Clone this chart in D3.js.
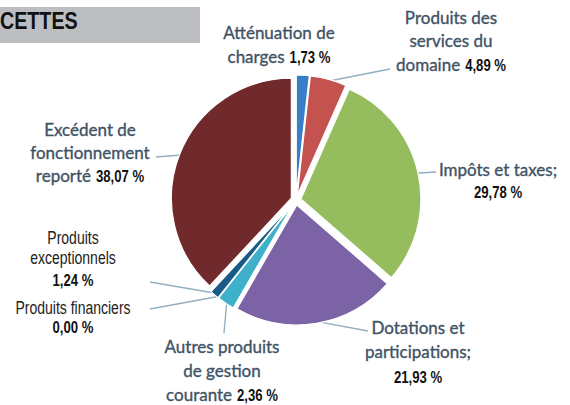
<!DOCTYPE html>
<html>
<head>
<meta charset="utf-8">
<script src="https://cdn.jsdelivr.net/npm/d3@7"></script>
<style>
body { margin: 0; background: #fff; }
svg { display: block; }
.cat { font-family: Lato, "Open Sans", sans-serif; font-size: 17px; fill: #415366; stroke: #415366; stroke-width: 0.35px; }
.plain { font-family: "Liberation Sans", Arial, sans-serif; font-size: 17.5px; fill: #222; }
.pct { font-family: "Liberation Sans", Arial, sans-serif; font-size: 16px; font-weight: bold; fill: #111; }
.title { font-family: "Liberation Sans", Arial, sans-serif; font-size: 24px; font-weight: bold; fill: #111; }
</style>
</head>
<body>
<div id="chart"></div>
<script>
var categories = [
    "Atténuation de charges",
    "Produits des services du domaine",
    "Impôts et taxes;",
    "Dotations et participations;",
    "Autres produits de gestion courante",
    "Produits financiers",
    "Produits exceptionnels",
    "Excédent de fonctionnement reporté"
];
var values = [1.73, 4.89, 29.78, 21.93, 2.36, 0.00, 1.24, 38.07];
var colors = ["#3a7fc6", "#c4524f", "#95bd5e", "#7b63a6", "#3fb0c9", "#1f6f9a", "#1b5a86", "#702a2c"];
var titleText = "CETTES";

// label layout: lines of the name, centre x, first line y, line step,
// whether the % sits on the last line, and where the leader line ends
var labelLayout = [
    {lines: ["Atténuation de", "charges"], x: 279, y: 33, step: 24, inline: true, cls: "cat", lead: null},
    {lines: ["Produits des", "services du", "domaine"], x: 451, y: 18, step: 23.5, inline: true, cls: "cat", lead: [390, 69]},
    {lines: ["Impôts et taxes;"], x: 498, y: 170, step: 22, inline: false, cls: "cat", lead: [436, 172]},
    {lines: ["Dotations et", "participations;"], x: 418, y: 328, step: 24.5, inline: false, cls: "cat", lead: [368, 331]},
    {lines: ["Autres produits", "de gestion", "courante"], x: 222, y: 347, step: 24, inline: true, cls: "cat", lead: [224, 333]},
    {lines: ["Produits financiers"], x: 73, y: 308, step: 19.5, inline: false, cls: "plain", lead: [150, 309]},
    {lines: ["Produits", "exceptionnels"], x: 73, y: 238, step: 19.5, pctStep: 22.5, inline: false, cls: "plain", lead: [150, 282]},
    {lines: ["Excédent de", "fonctionnement", "reporté"], x: 90, y: 130, step: 23, inline: true, cls: "cat", lead: [156, 157]}
];

var svgWidth = 570;
var svgHeight = 405;
var cx = 296;
var cy = 200;
var radius = 120;
var explode = 5;

var fr = d3.formatLocale({decimal: ",", thousands: " ", grouping: [3], currency: ["", " €"]});
var fmt = fr.format(".2f");

var svg = d3.select("#chart")
    .append("svg")
    .attr("width", svgWidth)
    .attr("height", svgHeight);

// squeeze a text element horizontally (the source uses a condensed face)
function condense(t, k) {
    var w = t.node().getComputedTextLength() * (k || 0.82);
    t.attr("textLength", w).attr("lengthAdjust", "spacingAndGlyphs");
    return w;
}

// title band
svg.append("rect")
    .attr("x", 0)
    .attr("y", 7)
    .attr("width", 200)
    .attr("height", 36)
    .attr("fill", "#bdbec1");

var title = svg.append("text")
    .attr("class", "title")
    .attr("x", 0)
    .attr("y", 29)
    .text(titleText);
condense(title);

var data = categories.map(function(c, i) {
    return {name: c, value: values[i], color: colors[i], layout: labelLayout[i]};
});

var pie = d3.pie()
    .sort(null)
    .value(d => d.value);

var arc = d3.arc()
    .innerRadius(0)
    .outerRadius(radius);

var arcs = pie(data);

function mid(d) { return (d.startAngle + d.endAngle) / 2; }

var lineGroup = svg.append("g");
var pieGroup = svg.append("g")
    .attr("transform", `translate(${cx}, ${cy})`);

arcs.forEach(function(d) {
    var L = d.data.layout;
    if (!L.lead) return;
    var a = mid(d);
    var rr = radius + explode - 2;
    lineGroup.append("line")
        .attr("x1", cx + Math.sin(a) * rr)
        .attr("y1", cy - Math.cos(a) * rr)
        .attr("x2", L.lead[0])
        .attr("y2", L.lead[1])
        .attr("stroke", "#93afc0")
        .attr("stroke-width", 1.4);
});

pieGroup.selectAll("path")
    .data(arcs)
    .enter()
    .append("path")
    .attr("d", arc)
    .attr("transform", function(d) {
        var a = mid(d);
        return `translate(${Math.sin(a) * explode}, ${-Math.cos(a) * explode})`;
    })
    .attr("fill", d => d.data.color)
    .attr("stroke", "#fff")
    .attr("stroke-width", 1.2);

// labels
data.forEach(function(d) {
    var L = d.layout;
    var pct = fmt(d.value) + " %";
    L.lines.forEach(function(line, j) {
        var y = L.y + j * L.step;
        var name = svg.append("text")
            .attr("class", L.cls)
            .attr("y", y)
            .attr("dy", "0.35em")
            .text(line);
        var w1 = L.cls == "plain" ? condense(name, 0.8) : name.node().getComputedTextLength();
        if (L.inline && j == L.lines.length - 1) {
            var p = svg.append("text")
                .attr("class", "pct")
                .attr("y", y)
                .attr("dy", "0.35em")
                .text(pct);
            var w2 = condense(p);
            var gap = 5;
            var x0 = L.x - (w1 + gap + w2) / 2;
            name.attr("x", x0);
            p.attr("x", x0 + w1 + gap);
        } else {
            name.attr("x", L.x - w1 / 2);
        }
    });
    if (!L.inline) {
        var p = svg.append("text")
            .attr("class", "pct")
            .attr("y", L.y + (L.lines.length - 1) * L.step + (L.pctStep || L.step))
            .attr("dy", "0.35em")
            .text(pct);
        var w = condense(p);
        p.attr("x", L.x - w / 2);
    }
});
</script>
</body>
</html>
